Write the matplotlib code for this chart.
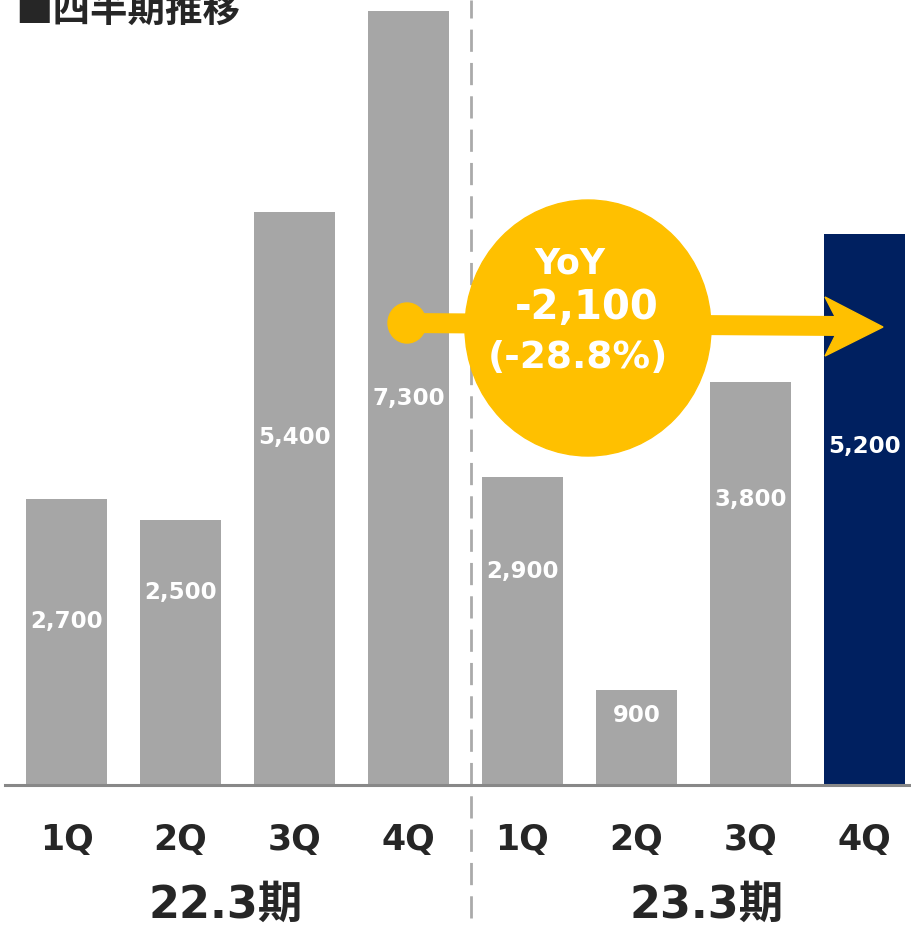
import matplotlib
matplotlib.use("Agg")
import matplotlib.pyplot as plt
from matplotlib.patches import Ellipse, Polygon
from matplotlib.lines import Line2D
from matplotlib.transforms import blended_transform_factory

plt.rcParams['font.family'] = ['DejaVu Sans', 'Noto Sans CJK JP']

quarters = ["1Q", "2Q", "3Q", "4Q", "1Q", "2Q", "3Q", "4Q"]
values = [2700, 2500, 5400, 7300, 2900, 900, 3800, 5200]
value_labels = ["2,700", "2,500", "5,400", "7,300", "2,900", "900", "3,800", "5,200"]
periods = ["22.3期", "23.3期"]
title = "■四半期推移"
yoy_lines = ["YoY", "-2,100", "(-28.8%)"]

# layout (label positions in data units, not data values)
label_y = [1538, 1820, 3273, 3641, 2009, 651, 2688, 3188]
period_x = [1.40, 5.62]

gray = "#A6A6A6"
navy = "#002060"
yellow = "#FFC000"
colors = [gray] * 7 + [navy]

W, H = 911, 930
fig = plt.figure(figsize=(W / 100, H / 100), dpi=100)
ax = fig.add_axes([5 / W, 145 / H, 1 - 5 / W, 785 / H])

x = list(range(len(values)))
ax.bar(x, values, width=0.71, color=colors, zorder=2)
ax.set_xlim(-0.54, 7.41)
ax.set_ylim(0, 7403)

for xi, ly, lab in zip(x, label_y, value_labels):
    ax.text(xi, ly, lab, ha='center', va='center', color='white',
            fontsize=16.5, fontweight='bold', zorder=3)

for s in ['top', 'left', 'right']:
    ax.spines[s].set_visible(False)
ax.spines['bottom'].set_color('#888888')
ax.spines['bottom'].set_linewidth(2.2)
ax.set_yticks([])
ax.set_xticks(x)
ax.set_xticklabels(quarters, fontsize=25, fontweight='bold', color='#262626')
ax.tick_params(axis='x', length=0, pad=27)

# separator dashed line
ax.axvline(3.548, ymin=-0.17, ymax=1.0, color='#AAAAAA', lw=2,
           dashes=(8, 4), clip_on=False, zorder=1)

trans = blended_transform_factory(ax.transData, fig.transFigure)
for px, lab in zip(period_x, periods):
    ax.text(px, 1 - 905 / H, lab, transform=trans, ha='center', va='center',
            fontsize=32, fontweight='bold', color='#262626')

fig.text(15 / W, 1 - 10 / H, title, ha='left', va='center', fontsize=27,
         fontweight='bold', color='#262626', family=['Noto Sans CJK JP'])

def fx(px):
    return px / W

def fy(py):
    return 1 - py / H

# arrow
fig.add_artist(Line2D([fx(407), fx(840)], [fy(323), fy(326)], color=yellow,
                      lw=14.4, transform=fig.transFigure, zorder=4))
fig.add_artist(Ellipse((fx(407), fy(323)), 38 / W, 40 / H, color=yellow,
                       transform=fig.transFigure, zorder=4))
fig.add_artist(Polygon([(fx(883), fy(327)), (fx(825), fy(297)), (fx(840), fy(326)),
                        (fx(825), fy(356))], closed=True, color=yellow,
                       transform=fig.transFigure, zorder=4))
fig.add_artist(Ellipse((fx(588), fy(328)), 246 / W, 256 / H, color=yellow,
                       transform=fig.transFigure, zorder=5))

fig.text(fx(570), fy(263), yoy_lines[0], ha='center', va='center', fontsize=25,
         fontweight='bold', color='white', zorder=6)
fig.text(fx(587), fy(308), yoy_lines[1], ha='center', va='center', fontsize=29,
         fontweight='bold', color='white', zorder=6)
fig.text(fx(578), fy(358), yoy_lines[2], ha='center', va='center', fontsize=27,
         fontweight='bold', color='white', zorder=6)

fig.savefig("out.png", dpi=100)
